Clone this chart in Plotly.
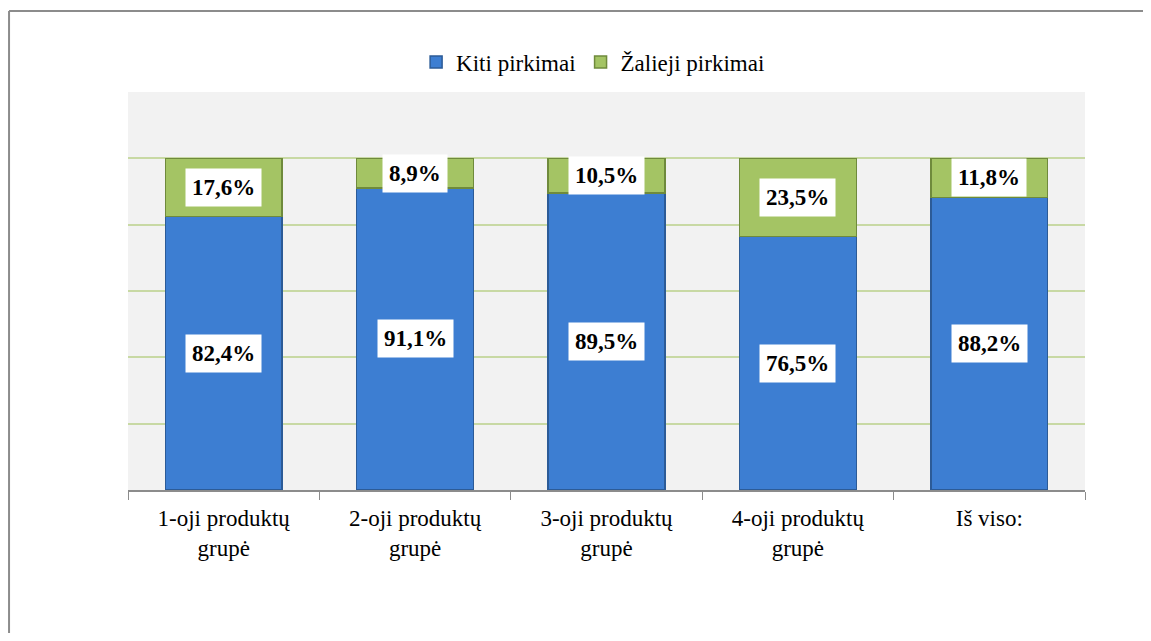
import plotly.graph_objects as go

# -----------------------------
# Data
# -----------------------------
categories = ["1-oji produktų<br>grupė", "2-oji produktų<br>grupė", "3-oji produktų<br>grupė",
              "4-oji produktų<br>grupė", "Iš viso:"]
kiti = [82.4, 91.1, 89.5, 76.5, 88.2]
zalieji = [17.6, 8.9, 10.5, 23.5, 11.8]

serif = "Times New Roman, Liberation Serif, DejaVu Serif, serif"

fig = go.Figure()
fig.add_trace(go.Bar(x=categories, y=kiti, name="Kiti pirkimai", width=0.61,
                     marker=dict(color="#3d7ed2", line=dict(color="#2c5b97", width=1.5))))
fig.add_trace(go.Bar(x=categories, y=zalieji, name="Žalieji pirkimai", width=0.61,
                     marker=dict(color="#a4c464", line=dict(color="#6f8a3c", width=1.5))))

# value labels with white boxes
for cat, k, z in zip(categories, kiti, zalieji):
    for val, mid in [(k, k / 2), (z, k + z / 2)]:
        fig.add_annotation(x=cat, y=mid, xref="x", yref="y", showarrow=False,
                           text="<b>" + f"{val:.1f}".replace(".", ",") + "%</b>",
                           font=dict(family=serif, size=23, color="black"),
                           bgcolor="white", borderpad=6)

# outer frame (left and top edges visible)
fig.add_shape(type="line", xref="paper", yref="paper", x0=-0.1243, x1=-0.1243, y0=1.2035, y1=-0.6,
              line=dict(color="#8c8c8c", width=2))
fig.add_shape(type="line", xref="paper", yref="paper", x0=-0.1243, x1=1.3, y0=1.2035, y1=1.2035,
              line=dict(color="#8c8c8c", width=2))

fig.update_layout(
    barmode="stack",
    width=1135, height=625,
    margin=dict(l=120, r=58, t=84, b=143),
    paper_bgcolor="white",
    plot_bgcolor="#f2f2f2",
    showlegend=True,
    legend=dict(orientation="h", x=0.486, xanchor="center", y=1.075, yanchor="middle",
                traceorder="normal",
                font=dict(family=serif, size=23, color="black"), itemwidth=30),
    font=dict(family=serif, size=23, color="black"),
    xaxis=dict(tickson="boundaries", ticks="outside", ticklen=8, tickcolor="#8c8c8c",
               showline=True, linecolor="#8c8c8c", linewidth=1.5, ticklabelstandoff=7,
               tickfont=dict(family=serif, size=23, color="black")),
    yaxis=dict(range=[0, 120], dtick=20, showticklabels=False, showgrid=True,
               gridcolor="#c8d9a4", gridwidth=1.5, zeroline=False),
)

fig.write_html("out.html")
